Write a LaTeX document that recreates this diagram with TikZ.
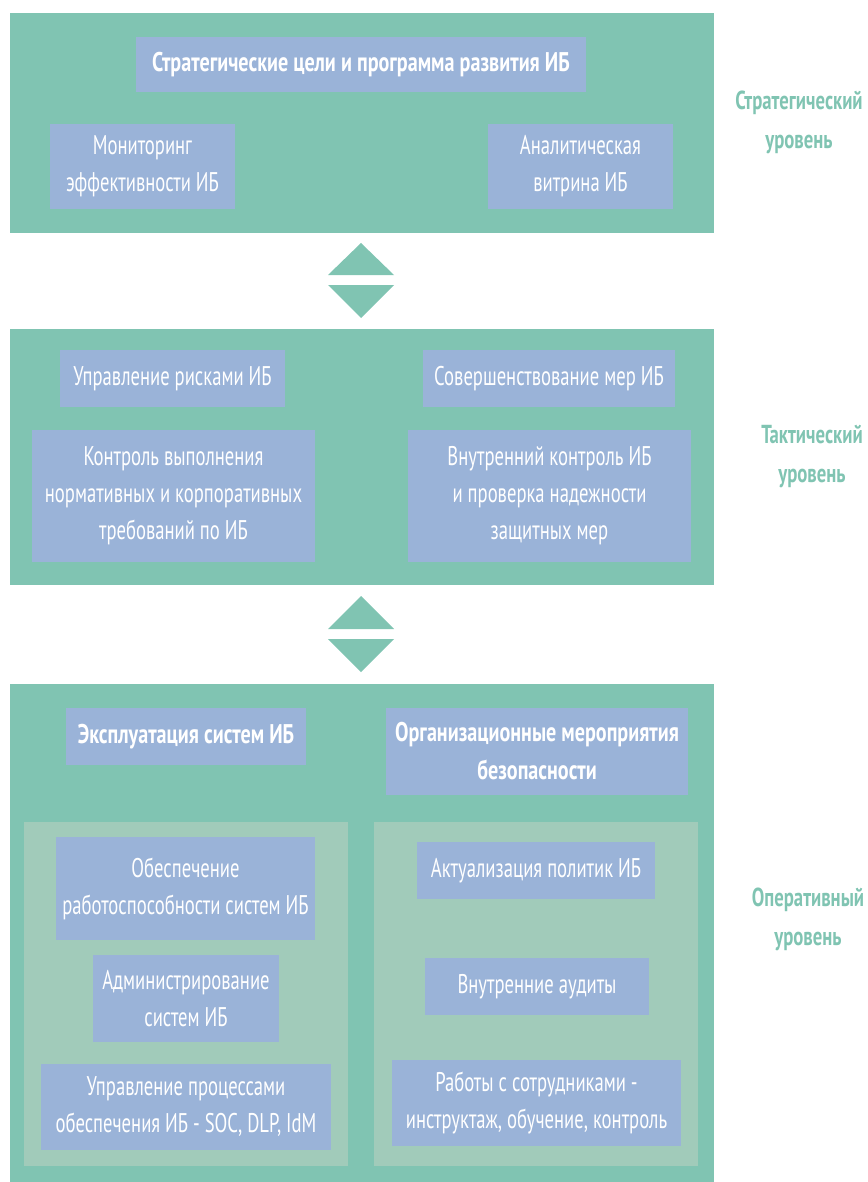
\documentclass[tikz,border=0pt]{standalone}
\usepackage{fontspec}
\setmainfont{PT Sans}[FakeStretch=0.69]
\newfontfamily\boldcond{PT Sans Bold}[FakeStretch=0.745]
\newfontfamily\lblcond{PT Sans Bold}[FakeStretch=0.72]
\definecolor{panelc}{HTML}{80C4B2}
\definecolor{boxc}{HTML}{9AB3D8}
\definecolor{innerc}{HTML}{A1CBBA}
\begin{document}
\begin{tikzpicture}[x=1pt,y=-1pt,
  panelbox/.style={fill=panelc, draw=none, inner sep=0pt, outer sep=0pt},
  innerbox/.style={fill=innerc, draw=none, inner sep=0pt, outer sep=0pt},
  bx/.style={fill=boxc, draw=none, text=white, align=center, inner sep=0pt, outer sep=0pt,
     font=\fontsize{27}{37}\selectfont},
  bxb/.style={bx, font=\boldcond\fontsize{27}{38}\selectfont},
  lbl/.style={text=panelc, align=center, inner sep=0pt, font=\lblcond\fontsize{26}{39}\selectfont},
  tri/.style={fill=panelc, draw=none}]
\useasboundingbox (0,0) rectangle (867,1182);
\clip (0,0) rectangle (867,1182);
% panels
\node[panelbox, minimum width=704pt, minimum height=220pt] (strat) at (362,123) {};
\node[panelbox, minimum width=704pt, minimum height=256pt] (takt) at (362,457) {};
\node[panelbox, minimum width=704pt, minimum height=498pt] (oper) at (362,933) {};
% strategic
\node[bxb, minimum width=450pt, minimum height=55pt] (s1) at (361,64.5) {Стратегические цели и программа развития ИБ};
\node[bx, minimum width=185pt, minimum height=85pt] (s2) at (142.5,166.5) {Мониторинг\\эффективности ИБ};
\node[bx, minimum width=185pt, minimum height=85pt] (s3) at (580.5,166.5) {Аналитическая\\витрина ИБ};
% tactical
\node[bx, minimum width=225pt, minimum height=57pt] (t1) at (172.5,378.5) {Управление рисками ИБ};
\node[bx, minimum width=252pt, minimum height=57pt] (t2) at (549,378.5) {Совершенствование мер ИБ};
\node[bx, minimum width=283pt, minimum height=132pt] (t3) at (173.5,496) {Контроль выполнения\\нормативных и корпоративных\\требований по ИБ};
\node[bx, minimum width=283pt, minimum height=132pt] (t4) at (549.5,496) {Внутренний контроль ИБ\\и проверка надежности\\защитных мер};
% operational
\node[bxb, minimum width=240pt, minimum height=57pt] (o1) at (186,736.5) {Эксплуатация систем ИБ};
\node[bxb, minimum width=302pt, minimum height=87pt] (o2) at (537,751.5) {Организационные мероприятия\\безопасности};
\node[innerbox, minimum width=324pt, minimum height=344pt] (il) at (186,994) {};
\node[innerbox, minimum width=324pt, minimum height=344pt] (ir) at (536,994) {};
\node[bx, minimum width=259pt, minimum height=103pt] (o3) at (185.5,888.5) {Обеспечение\\работоспособности систем ИБ};
\node[bx, minimum width=186pt, minimum height=87pt] (o4) at (186,998.5) {Администрирование\\систем ИБ};
\node[bx, minimum width=290pt, minimum height=86pt] (o5) at (186,1107) {Управление процессами\\обеспечения ИБ - SOC, DLP, IdM};
\node[bx, minimum width=238pt, minimum height=57pt] (o6) at (536,870.5) {Актуализация политик ИБ};
\node[bx, minimum width=224pt, minimum height=57pt] (o7) at (537,986.5) {Внутренние аудиты};
\node[bx, minimum width=289pt, minimum height=86pt] (o8) at (536.5,1103) {Работы с сотрудниками -\\инструктаж, обучение, контроль};
% level labels
\node[lbl] (l1) at (799,122) {Стратегический\\уровень};
\node[lbl] (l2) at (812,457) {Тактический\\уровень};
\node[lbl] (l3) at (808,919) {Оперативный\\уровень};
% triangles between panels
\fill[tri] (328,275) -- (394,275) -- (361,243) -- cycle;
\fill[tri] (328,285) -- (394,285) -- (361,318) -- cycle;
\fill[tri] (328,629) -- (394,629) -- (361,596) -- cycle;
\fill[tri] (328,639) -- (394,639) -- (361,672) -- cycle;
\end{tikzpicture}
\end{document}
